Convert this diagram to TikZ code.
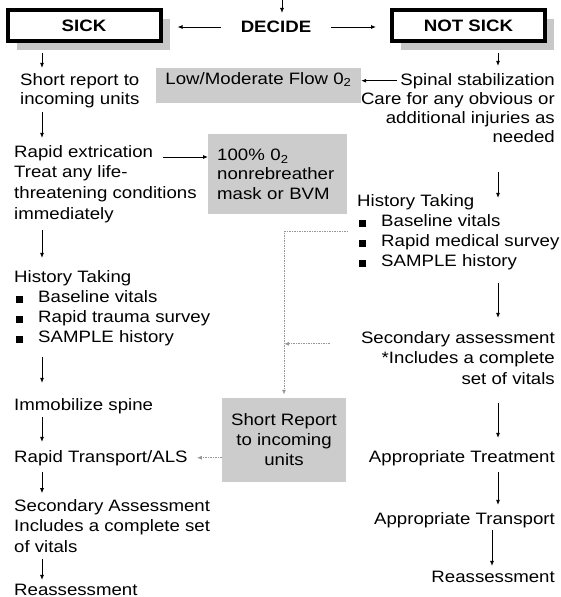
\documentclass[tikz,border=0pt]{standalone}
\usepackage{fontspec}
\setmainfont{Liberation Sans}[FakeStretch=1.13]
\usetikzlibrary{arrows.meta,shadows}

\definecolor{boxgray}{RGB}{204,204,204}
\definecolor{shadegray}{RGB}{200,200,200}
\definecolor{dotgray}{RGB}{150,150,150}

\newcommand{\bitem}{\hspace*{2pt}\rule[-0.5pt]{6.5pt}{6.5pt}\hspace*{15.5pt}}

\tikzset{
    every node/.style={font=\fontsize{16.5}{19.5}\selectfont, inner sep=0pt},
    lead/.style={font=\fontsize{16.5}{#1}\selectfont},
    txt/.style={anchor=base west, align=left},
    rtxt/.style={anchor=base east, align=right},
    flow/.style={-{Latex[length=5pt,width=4pt]}, line width=0.8pt},
    dotflow/.style={-{Latex[length=5pt,width=4pt]}, dotgray, line width=1pt, dash pattern=on 1.5pt off 1pt},
    choice/.style={draw, line width=4pt, fill=white, minimum width=153pt, minimum height=31pt,
        font=\fontsize{16.5}{19.5}\selectfont\bfseries,
        drop shadow={shadow xshift=9pt, shadow yshift=-9pt, fill=shadegray, opacity=1}},
    graybox/.style={fill=boxgray},
}

\begin{document}
\begin{tikzpicture}[x=1pt, y=-1pt]
    \useasboundingbox (0,0) rectangle (561,597);

    % decision
    \coordinate (in) at (282,0);
    \node[font=\fontsize{16.5}{19.5}\selectfont\bfseries, inner xsep=20pt, inner ysep=8pt] (decide) at (276,27) {DECIDE};
    \node[choice] (sick) at (84,25.5) {SICK};
    \node[choice] (notsick) at (468.5,25.5) {NOT SICK};

    \draw[flow] (in) -- (in |- decide.north);
    \draw[flow, shorten >=15pt] (decide.west) -- (decide.west -| sick.east);
    \draw[flow, shorten >=14pt] (decide.east) -- (decide.east -| notsick.west);

    % sick side (multi-line texts sit on the baseline of their last line)
    \coordinate (lx) at (42,0);
    \node[txt, lead=19] (short) at (20,104) {Short report to\\incoming units};
    \node[txt] (rapid) at (14,157) {Rapid extrication};
    \node[txt, lead=20.7] (treat) at (14,219) {Treat any life-\\threatening conditions\\immediately};
    \node[txt, lead=20] (histL) at (14,342) {History Taking\\\bitem Baseline vitals\\\bitem Rapid trauma survey\\\bitem SAMPLE history};
    \node[txt] (immob) at (14,410) {Immobilize spine};
    \node[txt] (rapidT) at (14,462) {Rapid Transport/ALS};
    \node[txt, lead=20.3] (secL) at (14,552) {Secondary Assessment\\Includes a complete set\\of vitals};
    \node[txt] (reassL) at (14,595) {Reassessment};

    \draw[flow, shorten <=10pt, shorten >=5pt] (sick.south -| lx) -- (short.north -| lx);
    \draw[flow, shorten <=4.5pt, shorten >=7pt] (short.south -| lx) -- (rapid.north -| lx);
    \draw[flow, shorten <=7.5pt, shorten >=12pt] (treat.south -| lx) -- (histL.north -| lx);
    \draw[flow, shorten <=11.5pt, shorten >=15pt] (histL.south -| lx) -- (immob.north -| lx);
    \draw[flow, shorten <=3.5pt, shorten >=8pt] (immob.south -| lx) -- (rapidT.north -| lx);
    \draw[flow, shorten <=6.5pt, shorten >=6pt] (rapidT.south -| lx) -- (secL.north -| lx);
    \draw[flow, shorten <=6.5pt, shorten >=3.5pt] (secL.south -| lx) -- (reassL.north -| lx);

    % oxygen and report boxes
    \node[graybox, minimum width=205pt, minimum height=35pt, text height=12pt, text depth=15pt] (low) at (258.5,85.5) {Low/Moderate Flow 0\textsubscript{2}};
    \node[graybox, anchor=north west, minimum width=139pt, minimum height=80pt, text width=121pt, align=left, lead=19.3] (oxy) at (208,134) {100\% 0\textsubscript{2}\\nonrebreather\\mask or BVM};
    \node[graybox, minimum width=124pt, minimum height=84pt, align=center, lead=20] (sr) at (284,440) {Short Report\\to incoming\\units};

    \draw[flow, shorten <=10pt] (rapid.base east) -- (rapid.base east -| oxy.west);

    % not sick side
    \coordinate (rx) at (498,0);
    \coordinate (rx2) at (492,0);
    \node[rtxt] (spinal) at (555,85) {Spinal stabilization};
    \node[rtxt, lead=19] (care) at (555,142) {Care for any obvious or\\additional injuries as\\needed};
    \node[txt, lead=20] (histR) at (357,266) {History Taking\\\bitem Baseline vitals\\\bitem Rapid medical survey\\\bitem SAMPLE history};
    \node[rtxt, lead=20.5] (secR) at (555,384) {Secondary assessment\\*Includes a complete\\set of vitals};
    \node[rtxt] (treatR) at (555,462) {Appropriate Treatment};
    \node[rtxt] (transR) at (555,524) {Appropriate Transport};
    \node[rtxt] (reassR) at (555,582) {Reassessment};

    \draw[flow, shorten <=3pt] (spinal.west) -- (spinal.west -| low.east);
    \draw[flow, shorten <=10pt, shorten >=7pt] (notsick.south -| rx) -- (spinal.north -| rx);
    \draw[flow, shorten <=30pt, shorten >=-4pt] (care.south -| rx) -- (histR.north -| rx);
    \draw[flow, shorten <=13.5pt, shorten >=13pt] (histR.south -| rx) -- (secR.north -| rx);
    \draw[flow, shorten <=19pt, shorten >=12pt] (secR.south -| rx) -- (treatR.north -| rx);
    \draw[flow, shorten <=6.5pt, shorten >=7pt] (treatR.south -| rx) -- (transR.north -| rx);
    \draw[flow, shorten <=2.5pt, shorten >=4.5pt] (transR.south -| rx2) -- (reassR.north -| rx2);

    % report path
    \draw[dotflow, shorten <=9pt, shorten >=3pt] (histR.west) -| (sr.north);
    \draw[dotflow, shorten <=31pt] ([yshift=-13pt]secR.north west) -- ([yshift=-13pt]secR.north west -| sr.north);
    \draw[dotflow, shorten >=9pt] (rapidT.east -| sr.west) -- (rapidT.east);
\end{tikzpicture}
\end{document}
